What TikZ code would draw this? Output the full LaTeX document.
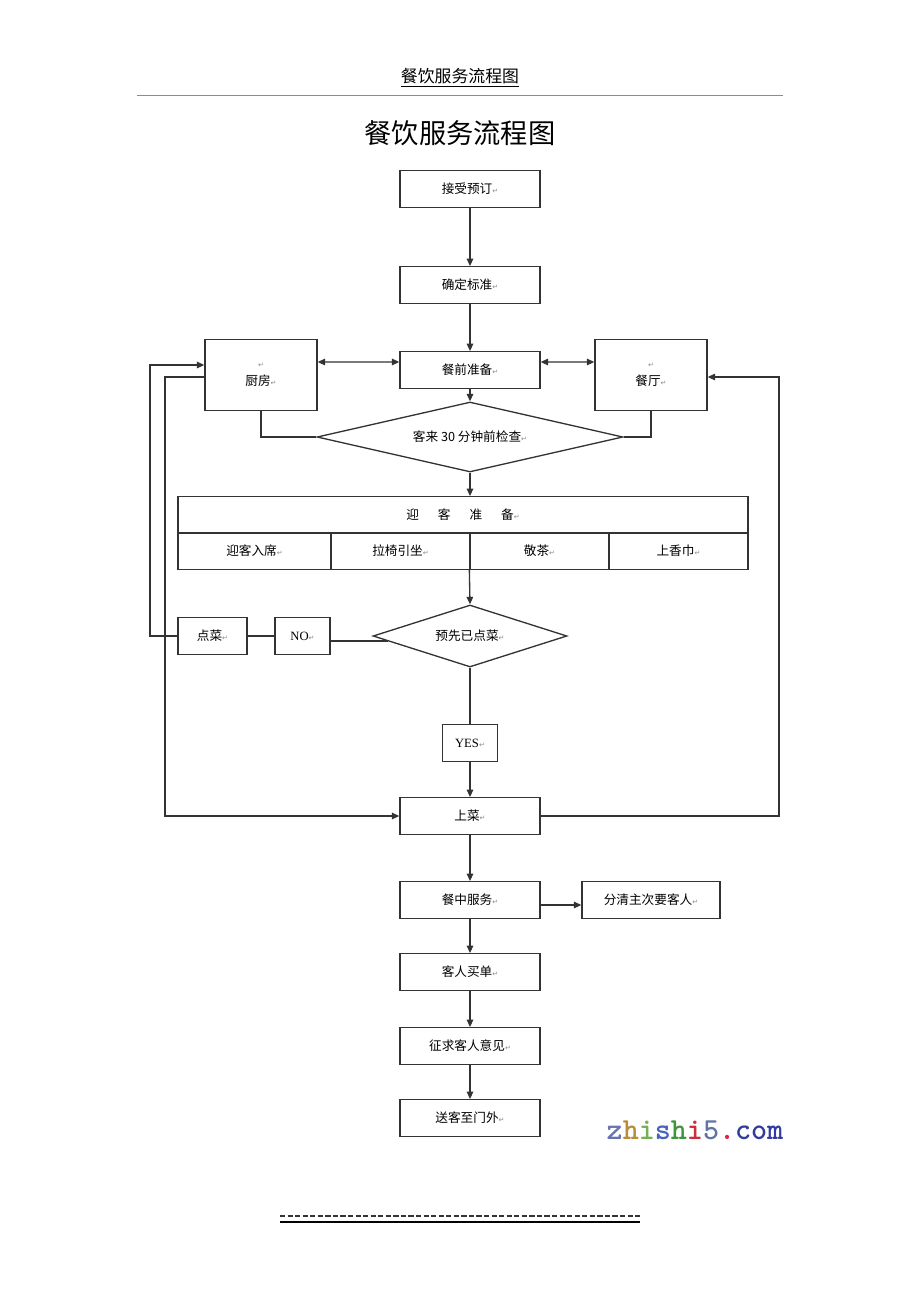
\documentclass[tikz,border=0pt]{standalone}
\usepackage{fontspec}
\setmainfont{Liberation Serif}
\newfontfamily\cjk{Noto Sans CJK SC}
\newfontfamily\symfont{DejaVu Sans}
\usetikzlibrary{shapes.geometric,arrows.meta}
\definecolor{wmz}{RGB}{105,115,180}
\definecolor{wmh}{RGB}{185,140,60}
\definecolor{wmi}{RGB}{120,175,80}
\definecolor{wms}{RGB}{70,100,190}
\definecolor{wmg}{RGB}{60,150,60}
\definecolor{wmr}{RGB}{205,45,60}
\definecolor{wmf}{RGB}{95,115,165}
\definecolor{wmd}{RGB}{230,30,70}
\definecolor{wmc}{RGB}{50,60,160}
\newcommand{\pmark}{{\color{black!45}\symfont\fontsize{4}{4}\selectfont ↵}}

\begin{document}
\begin{tikzpicture}[x=0.02cm,y=-0.02cm,
  line/.style={draw=black!80,line width=0.75pt},
  arr/.style={line,-{Triangle[length=1.5mm,width=1.3mm]}},
  darr/.style={line,{Triangle[length=1.5mm,width=1.3mm]}-{Triangle[length=1.5mm,width=1.3mm]}},
  box/.style={line,minimum width=2.8cm,minimum height=0.73cm,inner sep=0pt,font=\cjk\fontsize{7.2}{8}\selectfont},
  sidebox/.style={box,minimum width=2.24cm,minimum height=1.42cm,align=center},
  cell/.style={box,minimum width=2.78cm},
  choice/.style={line,diamond,inner sep=0pt,font=\cjk\fontsize{7.2}{8}\selectfont}]
\fill [white] (0,0) rectangle (920,1302);
\useasboundingbox (0,0) rectangle (920,1302);
% page header and title
\node (header) at (460,78) {\cjk\fontsize{9.6}{11}\selectfont\underline{餐饮服务流程图}};
\draw [black!45,line width=0.5pt] (137,95) -- (783,95);
\node (title) at (460,133) {\cjk\fontsize{15.5}{18}\selectfont 餐饮服务流程图};
% main column
\node [box] (booking) at (470,189) {接受预订\pmark};
\node [box] (standard) at (470,285) {确定标准\pmark};
\node [box] (prep) at (470,370) {餐前准备\pmark};
\node [sidebox] (kitchen) at (261,375) {\pmark\\[2pt]厨房\pmark};
\node [sidebox] (hall) at (651,375) {\pmark\\[2pt]餐厅\pmark};
\node [choice,aspect=4.4,minimum width=6.12cm,minimum height=1.4cm] (check) at (470,437) {客来 30 分钟前检查\pmark};
% welcome table
\node [box,minimum width=11.4cm] (welcome) at (463,515) {迎\hspace{1.5em}客\hspace{1.5em}准\hspace{1.5em}备\pmark};
\node [cell,minimum width=3.06cm] (seat) at (254.5,551) {迎客入席\pmark};
\node [cell] (chair) at (400.5,551) {拉椅引坐\pmark};
\node [cell] (tea) at (539.5,551) {敬茶\pmark};
\node [cell] (towel) at (678.5,551) {上香巾\pmark};
\node [choice,aspect=3.1,minimum width=3.88cm,minimum height=1.24cm] (order) at (470,636) {预先已点菜\pmark};
\node [box,minimum width=1.1cm] (no) at (302.5,636) {\rmfamily NO\pmark};
\node [box,minimum width=1.38cm] (menu) at (212.5,636) {点菜\pmark};
\node [box,minimum width=1.1cm] (yes) at (470,743) {\rmfamily YES\pmark};
\node [box] (serve) at (470,816) {上菜\pmark};
\node [box] (dining) at (470,900) {餐中服务\pmark};
\node [box,minimum width=2.76cm] (guests) at (651,900) {分清主次要客人\pmark};
\node [box] (bill) at (470,972) {客人买单\pmark};
\node [box] (advice) at (470,1046) {征求客人意见\pmark};
\node [box] (farewell) at (470,1118) {送客至门外\pmark};
% outer return lines
\coordinate (outerl) at (150,0);
\coordinate (innerl) at (165,0);
\coordinate (outerr) at (779,0);
% connectors
\draw [arr] (booking) -- (standard);
\draw [arr] (standard) -- (prep);
\draw [darr] ([yshift=0.26cm]kitchen.east) -- ([yshift=0.16cm]prep.west);
\draw [darr] ([yshift=0.16cm]prep.east) -- ([yshift=0.26cm]hall.west);
\draw [arr] (prep) -- (check.north);
\draw [line] (kitchen.south) |- (check.west);
\draw [line] (hall.south) |- (check.east);
\draw [arr] (check.south) -- (check.south |- welcome.north);
\draw [arr] (tea.south west) -- (order.north);
\draw [line] ([yshift=-0.1cm]no.east) -- ([yshift=-0.1cm,xshift=0.31cm]order.west);
\draw [line] (menu) -- (no);
\draw [arr] (menu.west) -- (menu.west -| outerl) |- ([yshift=0.2cm]kitchen.west);
\draw [arr] ([yshift=-0.04cm]kitchen.west) -- ([yshift=-0.04cm]kitchen.west -| innerl) |- (serve.west);
\draw [line] (order) -- (yes);
\draw [arr] (yes) -- (serve);
\draw [arr] (serve.east) -- (serve.east -| outerr) |- ([yshift=-0.04cm]hall.east);
\draw [arr] (serve) -- (dining);
\draw [arr] ([yshift=-0.1cm]dining.east) -- ([yshift=-0.1cm]guests.west);
\draw [arr] (dining) -- (bill);
\draw [arr] (bill) -- (advice);
\draw [arr] (advice) -- (farewell);
% watermark
\node (site) at (695,1130) {\ttfamily\bfseries\fontsize{17.4}{18}\selectfont
  \textcolor{wmz}{z}\textcolor{wmh}{h}\textcolor{wmi}{i}\textcolor{wms}{s}\textcolor{wmg}{h}\textcolor{wmr}{i}\textcolor{wmf}{5}\textcolor{wmd}{.}\textcolor{wmc}{com}};
% footer rule
\draw [black!80,line width=0.9pt,dash pattern=on 3pt off 1.3pt] (280,1216) -- (640,1216);
\draw [black,line width=0.7pt] (280,1222) -- (640,1222);
\end{tikzpicture}
\end{document}
